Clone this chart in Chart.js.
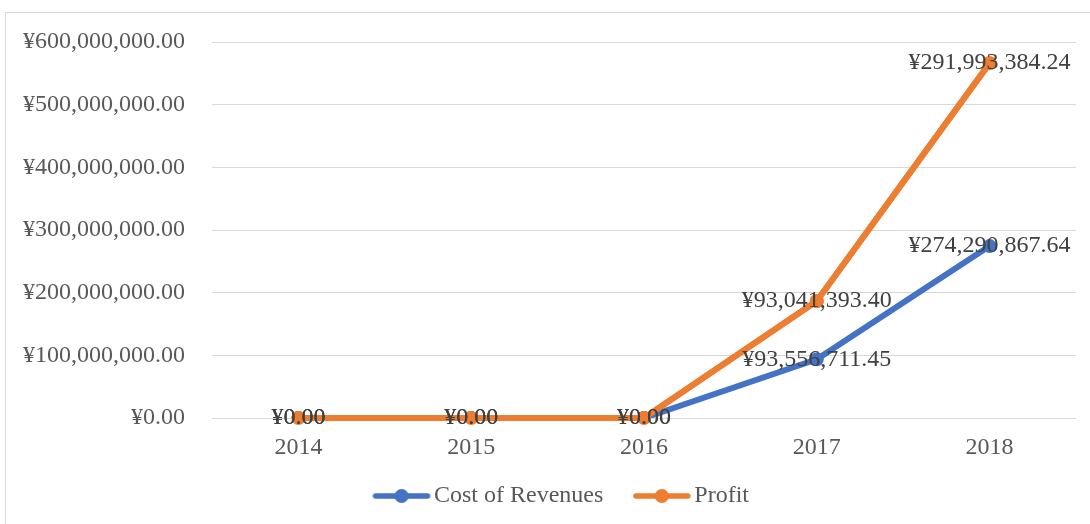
<!DOCTYPE html>
<html>
<head>
<meta charset="utf-8">
<script src="https://cdn.jsdelivr.net/npm/chart.js@4/dist/chart.umd.min.js"></script>
<style>
  html, body { margin: 0; padding: 0; background: #fff; overflow: hidden; }
  #frame { position: absolute; left: 5px; top: 12px; width: 1100px; height: 530px; border: 1px solid #d9d9d9; }
  #wrap { position: absolute; left: 0; top: 0; width: 1090px; height: 524px; }
</style>
</head>
<body>
<div id="frame"></div>
<div id="wrap"><canvas id="chart" width="1090" height="524"></canvas></div>
<script>
// Chart data
const years = ['2014', '2015', '2016', '2017', '2018'];
const costOfRevenues = [0, 0, 0, 93556711.45, 274290867.64];
const profit = [0, 0, 0, 93041393.40, 291993384.24];
const yTicks = [0, 100000000, 200000000, 300000000, 400000000, 500000000, 600000000];

const BLUE = '#4472C4';
const ORANGE = '#ED7D31';
const FONT = '"Liberation Serif", "Times New Roman", serif';
const SIZE = 24;

// Format as yen with two decimals
const yen = (v) => '¥' + Number(v).toLocaleString('en-US', {
    minimumFractionDigits: 2, maximumFractionDigits: 2
});

// Legend symbol: line with a dot in the middle.
// Drawn off-centre in a wider canvas so it sits right next to its text.
const legendIcon = (color) => {
    const c = document.createElement('canvas');
    c.width = 100;
    c.height = 16;
    const g = c.getContext('2d');
    g.strokeStyle = color;
    g.lineWidth = 5.5;
    g.lineCap = 'round';
    g.beginPath();
    g.moveTo(41, 8);
    g.lineTo(93, 8);
    g.stroke();
    g.fillStyle = color;
    g.beginPath();
    g.arc(67, 8, 7, 0, Math.PI * 2);
    g.fill();
    return c;
};
const icons = [legendIcon(BLUE), legendIcon(ORANGE)];

// Keep profit line on top, then write the value labels on the points
const valueLabels = {
    id: 'valueLabels',
    afterDatasetsDraw(chart) {
        const ctx = chart.ctx;
        chart.getDatasetMeta(1).controller.draw();
        ctx.save();
        ctx.font = SIZE + 'px ' + FONT;
        ctx.fillStyle = '#404040';
        ctx.textAlign = 'center';
        ctx.textBaseline = 'middle';
        chart.data.datasets.forEach((ds, i) => {
            chart.getDatasetMeta(i).data.forEach((pt, j) => {
                ctx.fillText(yen(ds.data[j]), pt.x, pt.y);
            });
        });
        ctx.restore();
    }
};

new Chart(document.getElementById('chart'), {
    type: 'line',
    data: {
        labels: years,
        datasets: [{
            label: 'Cost of Revenues',
            data: costOfRevenues,
            borderColor: BLUE,
            backgroundColor: BLUE,
            borderWidth: 6,
            pointRadius: 7,
            pointBorderWidth: 0,
            tension: 0
        }, {
            label: 'Profit',
            data: profit,
            borderColor: ORANGE,
            backgroundColor: ORANGE,
            borderWidth: 6,
            pointRadius: 7,
            pointBorderWidth: 0,
            tension: 0
        }]
    },
    options: {
        responsive: false,
        animation: false,
        layout: { padding: { left: 20, top: 42, right: 14, bottom: 6 } },
        scales: {
            x: {
                offset: true,
                grid: { display: false, drawTicks: false },
                border: { display: false },
                ticks: { color: '#595959', font: { family: FONT, size: SIZE }, padding: 15 },
                afterFit: (s) => { s.height = 62; }
            },
            y: {
                stacked: true,
                min: 0,
                max: 600000000,
                afterBuildTicks: (s) => { s.ticks = yTicks.map(v => ({ value: v })); },
                grid: { color: '#d9d9d9', lineWidth: 1, drawTicks: false },
                border: { display: false },
                ticks: {
                    color: '#595959',
                    font: { family: FONT, size: SIZE },
                    padding: 27,
                    callback: (v) => yen(v)
                },
                afterFit: (s) => { s.width = 192; }
            }
        },
        plugins: {
            legend: {
                position: 'bottom',
                labels: {
                    usePointStyle: true,
                    pointStyleWidth: 75,
                    padding: 4,
                    color: '#595959',
                    font: { family: FONT, size: SIZE },
                    generateLabels: (chart) => chart.data.datasets.map((ds, i) => ({
                        text: ds.label,
                        pointStyle: icons[i],
                        fillStyle: ds.borderColor,
                        strokeStyle: ds.borderColor,
                        lineWidth: 0,
                        fontColor: '#595959',
                        datasetIndex: i
                    }))
                }
            },
            tooltip: { enabled: false }
        }
    },
    plugins: [valueLabels]
});
</script>
</body>
</html>
